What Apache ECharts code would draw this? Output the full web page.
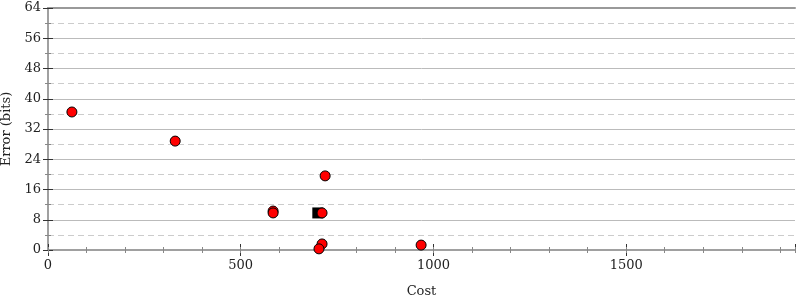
<!DOCTYPE html>
<html>
<head>
<meta charset="utf-8">
<script src="https://cdn.jsdelivr.net/npm/echarts@6/dist/echarts.min.js"></script>
<style>
  html, body { margin: 0; padding: 0; background: #fff; }
  #chart { width: 800px; height: 300px; }
</style>
</head>
<body>
<div id="chart"></div>
<script>
// 数据
var costValues  = [62, 330, 584, 584, 711, 719, 711, 703, 968];
var errorValues = [36.5, 28.8, 10.3, 9.8, 9.8, 19.6, 1.6, 0.3, 1.3];
var bestPoint   = [[700, 9.8]];
var xMax = 1938;
var yMax = 64;

var chart = echarts.init(document.getElementById("chart"));

var fontFamily = "DejaVu Serif";
var axisGray = "#a0a0a0";

function xTickAxis(interval, len, inside, showLabel) {
	return {
		type : 'value',
		position : 'bottom',
		min : 0,
		max : xMax,
		interval : interval,
		axisLine : { show : false },
		axisTick : { show : true, inside : inside, length : len,
			lineStyle : { color : interval == 500 ? '#333' : '#888', width : 1 } },
		axisLabel : showLabel ? {
			show : true, color : '#222', fontFamily : fontFamily, fontSize : 13,
			margin : 9, showMaxLabel : false,
			formatter : function (v) { return String(v); }
		} : { show : false },
		splitLine : { show : false }
	};
}

function yTickAxis(position, len, inside, showLabel) {
	return {
		type : 'value',
		position : position,
		min : 0,
		max : yMax,
		interval : 8,
		axisLine : { show : false },
		axisTick : { show : true, inside : inside, length : len,
			lineStyle : { color : '#333', width : 1 } },
		minorTick : { show : true, splitNumber : 2, length : 3,
			lineStyle : { color : '#888', width : 1 } },
		axisLabel : showLabel ? {
			show : true, color : '#222', fontFamily : fontFamily, fontSize : 13, margin : 7
		} : { show : false },
		splitLine : { show : false }
	};
}

var xAxes = [
	xTickAxis(500, 6, false, true),
	xTickAxis(500, 6, true, false),
	xTickAxis(100, 3, false, false),
	xTickAxis(100, 3, true, false),
	{
		// 顶部边框线
		type : 'value', position : 'top', min : 0, max : xMax,
		axisLine : { show : true, lineStyle : { color : '#999', width : 2 } },
		axisTick : { show : false }, axisLabel : { show : false }, splitLine : { show : false }
	}
];
xAxes[0].axisLine = { show : true, lineStyle : { color : axisGray, width : 2 } };
xAxes[0].name = 'Cost';
xAxes[0].nameLocation = 'middle';
xAxes[0].nameGap = 35;
xAxes[0].nameTextStyle = { color : '#222', fontFamily : fontFamily, fontSize : 13 };

var yAxes = [
	yTickAxis('left', 5, false, true),
	yTickAxis('left', 5, true, false),
	yTickAxis('right', 5, false, false),
	yTickAxis('right', 5, true, false)
];
yAxes[0].axisLine = { show : true, lineStyle : { color : axisGray, width : 2 } };
yAxes[0].splitLine = { show : true, lineStyle : { color : '#bbb', width : 1 } };
yAxes[0].minorSplitLine = { show : true, lineStyle : { color : '#ccc', width : 1, type : [6, 4] } };
yAxes[0].name = 'Error (bits)';
yAxes[0].nameLocation = 'middle';
yAxes[0].nameGap = 32;
yAxes[0].nameTextStyle = { color : '#222', fontFamily : fontFamily, fontSize : 13 };
yAxes[2].axisLine = { show : true, lineStyle : { color : axisGray, width : 2 } };

var scatterData = [];
for (var i = 0; i < costValues.length; i++) {
	scatterData.push([costValues[i], errorValues[i]]);
}

var option = {
	animation : false,
	grid : { left : 48, right : 5, top : 8, bottom : 50, containLabel : false, outerBoundsMode : 'none' },
	xAxis : xAxes,
	yAxis : yAxes,
	series : [ {
		type : 'scatter',
		xAxisIndex : 0,
		yAxisIndex : 0,
		symbol : 'rect',
		symbolSize : 11,
		itemStyle : { color : '#000', opacity : 1 },
		data : bestPoint,
		z : 3
	}, {
		type : 'scatter',
		xAxisIndex : 0,
		yAxisIndex : 0,
		symbol : 'circle',
		symbolSize : 10,
		itemStyle : { color : '#ff0000', borderColor : '#000', borderWidth : 1, opacity : 1 },
		data : scatterData,
		z : 4
	} ]
};

chart.setOption(option);
</script>
</body>
</html>
